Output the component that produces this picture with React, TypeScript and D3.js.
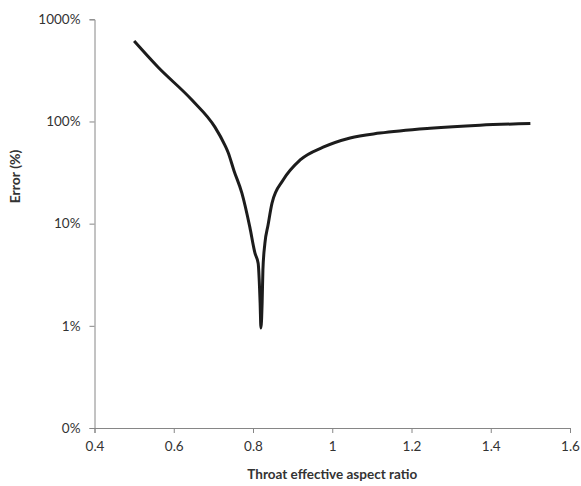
import * as React from 'react'
import * as d3 from 'd3'

// aspect ratio samples and the error (fraction, 1 = 100%)
const aspectRatio = [0.5, 0.56, 0.646, 0.704, 0.729, 0.737, 0.752, 0.772, 0.792, 0.805, 0.813, 0.818, 0.82,
    0.823, 0.825, 0.83, 0.838, 0.848, 0.876, 0.919, 0.977, 1.045, 1.12, 1.247, 1.373, 1.5]
const errorValue = [6.13, 3.41, 1.62, 0.88, 0.587, 0.5, 0.33, 0.199, 0.0925, 0.0514, 0.041, 0.0166, 0.0095,
    0.0166, 0.035, 0.064, 0.097, 0.159, 0.267, 0.42, 0.56, 0.69, 0.77, 0.86, 0.92, 0.955]

const xTicks = [0.4, 0.6, 0.8, 1, 1.2, 1.4, 1.6]
const yTicks = [0.001, 0.01, 0.1, 1, 10]
const yTickLabels = ['0%', '1%', '10%', '100%', '1000%']

const xTitle = 'Throat effective aspect ratio'
const yTitle = 'Error (%)'

const WIDTH = 581
const HEIGHT = 486
const margin = { left: 94.5, top: 19.3, right: 11, bottom: 58 }
const font = 'Lato, "Open Sans", sans-serif'

export default function App() {
    const node = React.useRef<SVGSVGElement | null>(null)

    React.useEffect(() => {
        if (!node.current)
            return
        const svg = d3.select(node.current)
        svg.selectAll('*').remove()

        const width = WIDTH - margin.left - margin.right
        const height = HEIGHT - margin.top - margin.bottom

        const x = d3.scaleLinear().domain([0.4, 1.6]).range([0, width])
        const y = d3.scaleLog().domain([0.001, 10]).range([height, 0])

        const g = svg.append('g').attr('transform', `translate(${margin.left},${margin.top})`)

        // x axis
        const xAxis = g.append('g')
            .attr('transform', `translate(0,${height})`)
            .call(d3.axisBottom(x).tickValues(xTicks).tickSize(5).tickPadding(8).tickFormat((d) => String(d)))
        xAxis.select('.domain').attr('stroke', '#868686')
        xAxis.selectAll('.tick line').attr('stroke', '#868686')
        xAxis.selectAll('.tick text')
            .attr('fill', '#333')
            .attr('font-size', 13.5)
            .attr('font-family', font)

        // y axis
        const yAxis = g.append('g')
            .call(d3.axisLeft(y).tickValues(yTicks).tickSize(5).tickPadding(9)
                .tickFormat((d, i) => yTickLabels[i]))
        yAxis.select('.domain').attr('stroke', '#868686')
        yAxis.selectAll('.tick line').attr('stroke', '#868686')
        yAxis.selectAll('.tick text')
            .attr('fill', '#333')
            .attr('font-size', 13.5)
            .attr('font-family', font)

        // titles
        svg.append('text')
            .attr('x', margin.left + width / 2)
            .attr('y', 479)
            .attr('text-anchor', 'middle')
            .attr('font-family', font)
            .attr('font-weight', 'bold')
            .attr('font-size', 13.5)
            .attr('fill', '#333')
            .text(xTitle)

        svg.append('text')
            .attr('transform', 'translate(19.5,176.5) rotate(-90)')
            .attr('text-anchor', 'middle')
            .attr('font-family', font)
            .attr('font-weight', 'bold')
            .attr('font-size', 14)
            .attr('fill', '#333')
            .text(yTitle)

        // curve
        const line = d3.line<number>()
            .x((d, i) => x(aspectRatio[i]))
            .y((d) => y(d))
            .curve(d3.curveMonotoneX)

        g.append('path')
            .datum(errorValue)
            .attr('fill', 'none')
            .attr('stroke', '#1c1c1c')
            .attr('stroke-width', 3)
            .attr('stroke-linejoin', 'round')
            .attr('stroke-linecap', 'butt')
            .attr('d', line)
    }, [])

    return (
        <svg
            ref={node}
            width={WIDTH}
            height={HEIGHT}
            style={{ position: 'absolute', left: 0, top: 0, background: '#fff' }} />
    )
}
